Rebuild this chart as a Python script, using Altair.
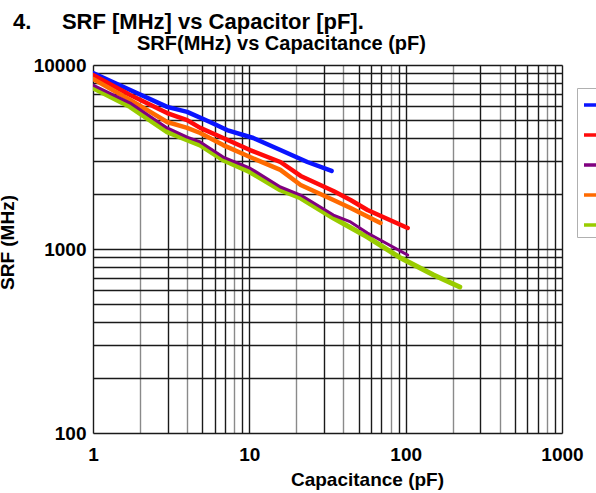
import altair as alt
import pandas as pd

# ---- data ----
series_names = ["Series 1", "Series 2", "Series 3", "Series 4", "Series 5"]
series_colors = ["#0a14ff", "#ff0a0a", "#800080", "#ff6a00", "#99cc00"]

cap_1 = [1, 1.73, 2.98, 4.0, 5.6, 7.2, 10.6, 15.8, 23.5, 33.6]
srf_1 = [9050, 7310, 5920, 5560, 4900, 4430, 4010, 3450, 2970, 2655]

cap_2 = [1, 1.73, 2.98, 4.0, 4.85, 6.8, 10.1, 15.8, 21.3, 34.5, 44.4, 57, 103]
srf_2 = [8825, 6870, 5480, 5020, 4550, 4010, 3450, 2970, 2495, 2066, 1847, 1628, 1300]

cap_3 = [1, 1.73, 2.98, 4.0, 4.85, 6.8, 10.1, 15.8, 21.3, 34.5, 44.4, 57, 103]
srf_3 = [7780, 6210, 4550, 4060, 3820, 3160, 2750, 2172, 1965, 1530, 1403, 1222, 927]

cap_4 = [1, 1.73, 2.98, 4.0, 4.85, 6.8, 10.1, 15.8, 21.3, 34.5, 44.4, 69]
srf_4 = [8390, 6460, 4900, 4550, 4270, 3670, 3160, 2690, 2228, 1847, 1670, 1385]

cap_5 = [1, 1.73, 2.98, 4.0, 4.85, 6.8, 10.1, 15.8, 21.3, 34.5, 57, 93, 151, 222]
srf_5 = [7500, 5920, 4330, 3910, 3670, 3045, 2620, 2093, 1893, 1473, 1160, 893, 722, 621]

x_grid_values = [1, 2, 3, 4, 5, 6, 7, 8, 9, 10, 20, 30, 40, 50, 60, 70, 80, 90,
                 100, 200, 300, 400, 500, 600, 700, 800, 900, 1000]
y_grid_values = [100, 200, 300, 400, 500, 600, 700, 800, 900, 1000, 2000, 3000,
                 4000, 5000, 6000, 7000, 8000, 9000, 10000]

caps = [cap_1, cap_2, cap_3, cap_4, cap_5]
srfs = [srf_1, srf_2, srf_3, srf_4, srf_5]
rows = []
for name, cs, ss in zip(series_names, caps, srfs):
    for c, s in zip(cs, ss):
        rows.append({"series": name, "cap": c, "srf": s})
df = pd.DataFrame(rows)

FONT = "Liberation Sans"

x_axis = alt.Axis(
    values=x_grid_values,
    labelExpr="indexof([1,10,100,1000], datum.value) >= 0 ? format(datum.value, 'd') : ''",
    labelOverlap=False, labelFlush=False, ticks=False, domain=False,
    grid=True,
    gridColor={"condition": {"test": "indexof([2,4,8,20,40,80,200,400,800], datum.value) >= 0",
                             "value": "#8a8a8a"}, "value": "#1a1a1a"},
    gridWidth=1.4,
    labelFont=FONT, labelFontSize=19, labelFontWeight="bold", labelColor="black",
    labelPadding=12,
    title="Capacitance (pF)", titleFont=FONT, titleFontSize=19, titleFontWeight="bold",
    titleColor="black", titleX=274, titleY=52, titleBaseline="alphabetic", titleAlign="center",
)

y_axis = alt.Axis(
    values=y_grid_values,
    labelExpr="indexof([100,1000,10000], datum.value) >= 0 ? format(datum.value, 'd') : ''",
    labelOverlap=False, labelFlush=False, ticks=False, domain=False,
    grid=True, gridColor="#1a1a1a", gridWidth=1.4,
    labelFont=FONT, labelFontSize=19, labelFontWeight="bold", labelColor="black",
    labelPadding=7,
    title="SRF (MHz)", titleFont=FONT, titleFontSize=19, titleFontWeight="bold",
    titleColor="black", titleX=-80, titleY=177, titleAngle=270,
    titleBaseline="alphabetic", titleAlign="center",
)

legend = alt.Legend(
    orient="none", legendX=484, legendY=23, title=None,
    symbolType="stroke", symbolStrokeWidth=3.5, symbolSize=400,
    rowPadding=11, padding=5, labelFontSize=12, labelFont=FONT,
    strokeColor="#b0b0b0", fillColor="white",
)
color_enc = alt.Color("series:N", scale=alt.Scale(domain=series_names, range=series_colors),
                      legend=legend)
x_scale = alt.Scale(type="log", domain=[1, 1000])
y_enc = alt.Y("srf:Q", scale=alt.Scale(type="log", domain=[100, 10000]), axis=y_axis)

main_lines = alt.Chart(df).mark_line(
    strokeWidth=4.5, strokeCap="round", strokeJoin="round", clip=True
).encode(
    x=alt.X("cap:Q", scale=x_scale, axis=x_axis), y=y_enc, color=color_enc
).transform_filter(
    alt.FieldOneOfPredicate(field="series", oneOf=[series_names[0], series_names[1], series_names[3]])
)
green_line = alt.Chart(df).mark_line(
    strokeWidth=5, strokeCap="round", strokeJoin="round", clip=True
).encode(
    x=alt.X("cap:Q", scale=x_scale, axis=None), y=y_enc, color=color_enc
).transform_filter(
    alt.FieldEqualPredicate(field="series", equal=series_names[4])
)
purple_line = alt.Chart(df).mark_line(
    strokeWidth=3, strokeCap="round", strokeJoin="round", clip=True
).encode(
    x=alt.X("cap:Q", scale=x_scale, axis=None), y=y_enc, color=color_enc
).transform_filter(
    alt.FieldEqualPredicate(field="series", equal=series_names[2])
)

top = alt.Chart(df).mark_point(opacity=0).encode(
    x=alt.X("cap:Q", axis=alt.Axis(
        orient="top", title="SRF(MHz) vs Capacitance (pF)", labels=False, ticks=False,
        domain=False, grid=False, titleX=188, titleY=-16, titleFont=FONT, titleFontSize=20,
        titleFontWeight="bold", titleColor="black", titleBaseline="alphabetic", titleAlign="center",
    )),
    y=alt.Y("srf:Q"),
)

chart = alt.layer(main_lines, green_line, purple_line, top).resolve_axis(x="independent").properties(
    width=469, height=368,
    title=alt.TitleParams(
        "4.\u00a0\u00a0\u00a0\u00a0\u00a0SRF [MHz] vs Capacitor [pF].",
        anchor="start", frame="group", dx=-80, dy=22, fontSize=22, font=FONT,
        fontWeight="bold", color="black", baseline="alphabetic", offset=4,
    ),
    autosize=alt.AutoSizeParams(type="none"),
    padding={"left": 93, "top": 65, "right": 34, "bottom": 60},
).configure_view(stroke="black", strokeWidth=2.5).configure(background="white")

chart.save("out.html", embed_options={"renderer": "svg", "actions": False})
